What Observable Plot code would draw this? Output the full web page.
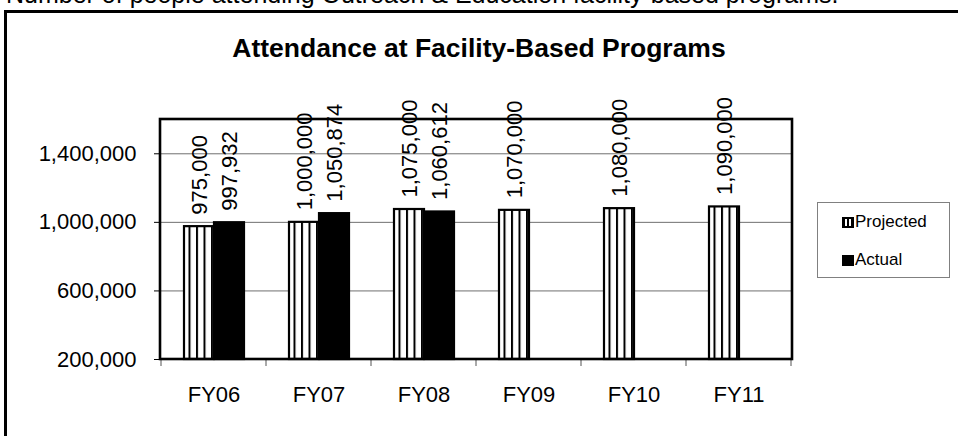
<!DOCTYPE html>
<html>
<head>
<meta charset="utf-8">
<script src="https://cdn.jsdelivr.net/npm/d3@7"></script>
<script src="https://cdn.jsdelivr.net/npm/@observablehq/plot@0.6"></script>
<style>
  body { margin: 0; background: #fff; font-family: "Liberation Sans", Arial, sans-serif; }
  #wrap { position: relative; width: 958px; height: 436px; overflow: hidden; background: #fff; }
  #box { position: absolute; left: 4px; top: 10px; width: 1000px; height: 500px; border: 3px solid #000; box-sizing: border-box; }
  #sub { position: absolute; left: 6px; top: -18px; font-size: 25px; line-height: 25px; white-space: nowrap; color: #000; }
  #title { position: absolute; left: 0; width: 958px; top: 35px; text-align: center; font-weight: bold; font-size: 26.5px; line-height: 26px; color: #000; }
  #chart { position: absolute; left: 0; top: 0; }
  #legend { position: absolute; left: 817px; top: 202px; width: 133px; height: 76px; border: 1px solid #808080; box-sizing: border-box; font-size: 17px; background: #fff; }
  .item { position: absolute; left: 24px; height: 20px; display: flex; align-items: center; }
  .item svg { margin-right: 1px; }
</style>
</head>
<body>
<div id="wrap">
  <div id="sub">Number of people attending Outreach &amp; Education facility-based programs.</div>
  <div id="box"></div>
  <div id="title">Attendance at Facility-Based Programs</div>
  <div id="chart"></div>
  <div id="legend"></div>
</div>
<script>
// ---- data ----
const years = ["FY06", "FY07", "FY08", "FY09", "FY10", "FY11"];
const seriesNames = ["Projected", "Actual"];
const projected = [975000, 1000000, 1075000, 1070000, 1080000, 1090000];
const actual = [997932, 1050874, 1060612];
const yTicks = [200000, 600000, 1000000, 1400000];
const yMax = 1600000;

const rows = [];
years.forEach((fy, i) => {
  rows.push({fy, series: "Projected", value: projected[i]});
  if (i < actual.length) rows.push({fy, series: "Actual", value: actual[i]});
});

const fmt = d3.format(",");

const plot = Plot.plot({
  width: 958,
  height: 436,
  marginLeft: 160,
  marginRight: 166,
  marginTop: 119,
  marginBottom: 77,
  style: {fontFamily: "'Liberation Sans', Arial, sans-serif", fontSize: "22px", color: "#000", background: "transparent"},
  fx: {domain: years, padding: 0, axis: "bottom", tickSize: 0, tickPadding: 27, label: null},
  x: {domain: seriesNames, paddingInner: 0, paddingOuter: 0.7, axis: null},
  y: {domain: [yTicks[0], yMax], ticks: yTicks, tickFormat: fmt, tickSize: 7, tickPadding: 18, label: null},
  color: {domain: seriesNames, range: ["url(#vstripes)", "#000"]},
  marks: [
    Plot.ruleY(yTicks.slice(1), {stroke: "#707070", strokeWidth: 1}),
    Plot.barY(rows, {fx: "fy", x: "series", y1: yTicks[0], y2: "value", fill: "series", stroke: "#000", strokeWidth: 2.2}),
    Plot.text(rows, {fx: "fy", x: "series", y: "value", text: d => fmt(d.value), rotate: -90, textAnchor: "start", dy: -12, fontSize: 22, fill: "#000"})
  ]
});

const svg = d3.select(plot);
svg.insert("defs", ":first-child").html(
  '<pattern id="vstripes" patternUnits="userSpaceOnUse" width="7.5" height="7">' +
  '<rect width="7.5" height="7" fill="#fff"/><rect x="0" width="2" height="7" fill="#000"/></pattern>'
);

// frame and category boundary ticks from the library's scales
const fxS = plot.scale("fx"), yS = plot.scale("y");
const x0 = Math.min(...fxS.range), x1 = Math.max(...fxS.range);
const yb = Math.max(...yS.range), yt = Math.min(...yS.range);
const bounds = years.map(d => fxS.apply(d)).concat([fxS.apply(years[years.length - 1]) + fxS.bandwidth]);
svg.append("g").selectAll("line").data(bounds).join("line")
  .attr("x1", d => d).attr("x2", d => d).attr("y1", yb).attr("y2", yb + 7)
  .attr("stroke", "#555").attr("stroke-width", 1);
svg.append("rect").attr("x", x0).attr("y", yt).attr("width", x1 - x0).attr("height", yb - yt)
  .attr("fill", "none").attr("stroke", "#000").attr("stroke-width", 2.6);

document.getElementById("chart").appendChild(plot);

// legend
const legend = d3.select("#legend");
const swatches = {
  Projected: '<svg width="12" height="11"><rect width="12" height="11" fill="#000"/><rect x="3" y="2" width="2" height="7" fill="#fff"/><rect x="7" y="2" width="2" height="7" fill="#fff"/></svg>',
  Actual: '<svg width="12" height="11"><rect width="12" height="11" fill="#000"/></svg>'
};
seriesNames.forEach((s, i) => {
  legend.append("div").attr("class", "item").style("top", (i === 0 ? 9 : 47) + "px")
    .html(swatches[s] + "<span>" + s + "</span>");
});
</script>
</body>
</html>
